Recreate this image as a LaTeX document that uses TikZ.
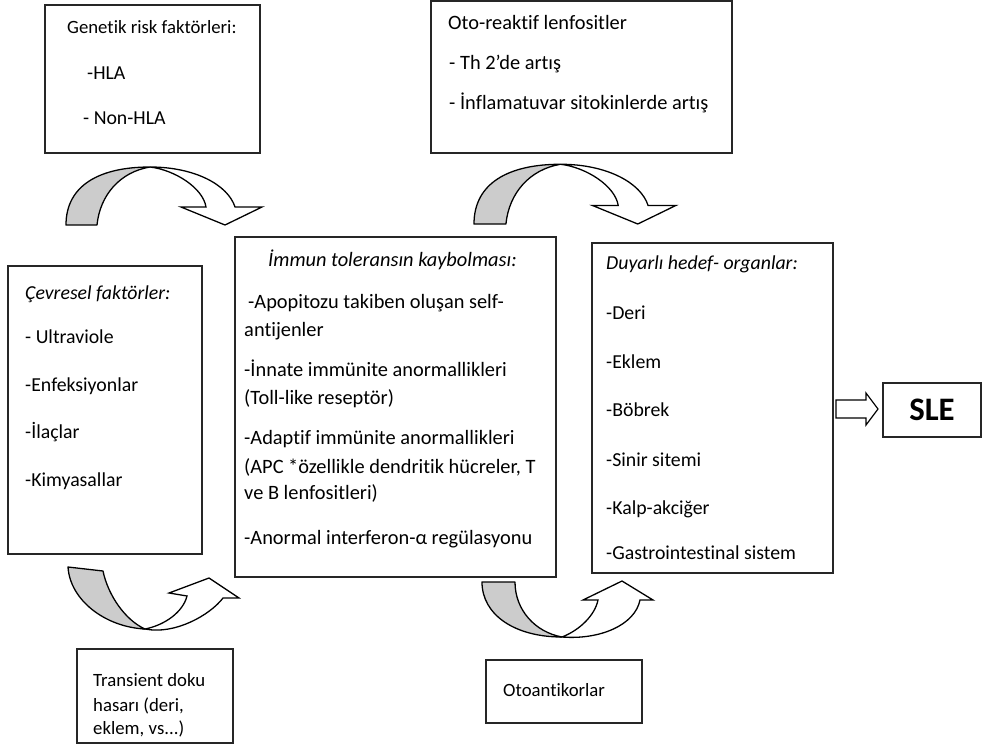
\documentclass[tikz,border=0pt]{standalone}
\usepackage{fontspec}
\setmainfont{Carlito}[Ligatures={NoCommon,NoContextual}]
\usetikzlibrary{fit}

\tikzset{
  box/.style={draw=black!85, line width=1.1pt, inner sep=0pt},
  txt/.style={anchor=base west, inner sep=0pt, font=\fontsize{16.9}{19}\selectfont},
  big/.style={txt, font=\fontsize{17.4}{20}\selectfont},
  small/.style={txt, font=\fontsize{16}{18}\selectfont},
  hd/.style={txt, font=\fontsize{16.9}{19}\selectfont\itshape},
  back/.style={draw=black, line width=1.1pt, fill=black!20, line join=round},
  front/.style={draw=black, line width=1.1pt, fill=white},
  % curved ribbon arrow, foot at the origin
  arcdown/.pic={
    \draw[back] (0,0) .. controls (0,-40) and (34,-58) .. (84,-58)
      .. controls (54,-53) and (34,-30) .. (31,0) -- cycle;
    \draw[front] (84,-58) .. controls (129,-58) and (162,-40) .. (169,-18)
      -- (196,-18) -- (159,0) -- (115,-18) -- (140,-18)
      .. controls (137,-37) and (109,-55) .. (84,-58) -- cycle;
  }
}

\begin{document}
\begin{tikzpicture}[x=0.03cm, y=-0.03cm]
  \useasboundingbox (0,0) rectangle (983,749);

  % boxes
  \node (gen) [box, fit={(45,5) (260,153)}] {};
  \node (oto) [box, fit={(431,1) (732,153)}] {};
  \node (cev) [box, fit={(8,266) (202,554)}] {};
  \node (imm) [box, fit={(235,237) (556,577)}] {};
  \node (duy) [box, fit={(592,243) (833,573)}] {};
  \node (sle) [box, fit={(883,383) (981,437)}] {};
  \node (tra) [box, fit={(77,649) (233,743)}] {};
  \node (oak) [box, fit={(486,660) (642,723)}] {};

  % texts
  \node (gen0) [small] at (67,33) {Genetik risk faktörleri:};
  \node (gen1) [txt] at (87,79) {-HLA};
  \node (gen2) [txt] at (83,124) {- Non-HLA};

  \node (oto0) [big] at (448,29) {Oto-reaktif lenfositler};
  \node (oto1) [big] at (449,69) {- Th 2’de artış};
  \node (oto2) [big] at (449,109) {- İnflamatuvar sitokinlerde artış};

  \node (cev0) [hd] at (25,299) {Çevresel faktörler:};
  \foreach \t/\y [count=\i] in {- Ultraviole/343, -Enfeksiyonlar/391, -İlaçlar/438, -Kimyasallar/486}
    \node (cev\i) [txt] at (25,\y) {\t};

  \node (imm0) [hd, font=\fontsize{17.4}{20}\selectfont\itshape] at (268,266) {İmmun toleransın kaybolması:};
  \node (imm1) [big] at (248,308) {-Apopitozu takiben oluşan self-};
  \foreach \t/\y [count=\i from 2] in {antijenler/336, -İnnate immünite anormallikleri/376,
      (Toll-like reseptör)/404, -Adaptif immünite anormallikleri/444,
      {(APC *özellikle dendritik hücreler, T}/473, ve B lenfositleri)/499,
      -Anormal interferon-α regülasyonu/544}
    \node (imm\i) [big] at (244,\y) {\t};

  \node (duy0) [hd] at (606,269) {Duyarlı hedef- organlar:};
  \foreach \t/\y [count=\i] in {-Deri/319, -Eklem/368, -Böbrek/416, -Sinir sitemi/466,
      -Kalp-akciğer/514, -Gastrointestinal sistem/559}
    \node (duy\i) [txt] at (606,\y) {\t};

  \node (sle0) [font=\fontsize{28}{30}\selectfont\bfseries] at (sle) {SLE};

  \node (tra0) [small] at (93,686) {Transient doku};
  \node (tra1) [small] at (93,711) {hasarı (deri,};
  \node (tra2) [small] at (93,734) {eklem, vs...)};

  \node (oak0) [small] at (503,696) {Otoantikorlar};

  % curved arrows
  \pic at (66,225) {arcdown};
  \pic[scale=1.03] at (474,224) {arcdown};

  \draw[back] (68,567) -- (103,571) .. controls (108,595) and (125,620) .. (145,629)
    .. controls (105,627) and (70,600) .. (68,567) -- cycle;
  \draw[front] (145,629) .. controls (175,635) and (210,615) .. (223,598)
    -- (239,598) -- (209,578) -- (169,593) -- (187,596)
    .. controls (183,612) and (165,625) .. (145,629) -- cycle;

  \draw[back] (482,582) -- (515,582) .. controls (515,610) and (535,632) .. (562,637)
    .. controls (515,637) and (482,615) .. (482,582) -- cycle;
  \draw[front] (562,637) .. controls (600,640) and (635,625) .. (640,600)
    -- (653,600) -- (622,581) -- (583,600) -- (598,600)
    .. controls (595,615) and (580,630) .. (562,637) -- cycle;

  % arrow to SLE
  \draw[line width=1pt] (836,400) -- (866,400) -- (866,393) -- (878,409)
    -- (866,425) -- (866,418) -- (836,418) -- cycle;
\end{tikzpicture}
\end{document}
